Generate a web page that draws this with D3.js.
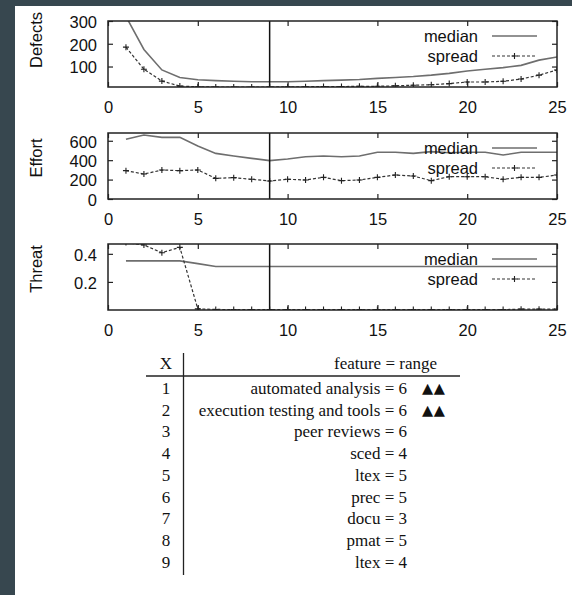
<!DOCTYPE html>
<html><head><meta charset="utf-8">
<script src="https://cdn.jsdelivr.net/npm/d3@7"></script>
<style>
html,body{margin:0;padding:0;background:#fff;}
svg{display:block;}
</style></head>
<body>
<svg id="c" width="572" height="595"></svg>
<script>
// ---------- data ----------
const xValues = [1,2,3,4,5,6,7,8,9,10,11,12,13,14,15,16,17,18,19,20,21,22,23,24,25];
const xTicks = [0,5,10,15,20,25];
const markerX = 9;

const defectsMedian = [320,175,85,52,42,38,35,33,33,33,35,38,40,43,48,52,56,62,70,80,88,95,105,128,142];
const defectsSpread = [185,88,36,14,11,10,10,10,10,11,11,12,12,13,13,15,18,20,25,32,32,35,45,62,85];
const defectsTicks = [100,200,300];

const effortMedian = [615,659,635,635,546,470,443,419,395,412,436,443,436,443,481,481,470,488,477,481,481,453,481,481,481];
const effortSpread = [292,257,299,292,299,213,220,203,185,203,196,223,189,196,223,247,237,189,230,230,230,203,223,223,247];
const effortTicks = [0,200,400,600];

const threatMedian = [0.35,0.35,0.35,0.35,0.33,0.31,0.31,0.31,0.31,0.31,0.31,0.31,0.31,0.31,0.31,0.31,0.31,0.31,0.31,0.31,0.31,0.31,0.31,0.31,0.31];
const threatSpread = [0.48,0.463,0.408,0.446,0.008,0.004,0.003,0.003,0.003,0.003,0.003,0.003,0.003,0.003,0.003,0.003,0.003,0.003,0.003,0.003,0.003,0.003,0.006,0.006,0.006];
const threatTicks = [0.2,0.4];

const seriesNames = ["median","spread"];
const panelTitles = ["Defects","Effort","Threat"];

const tableX = [1,2,3,4,5,6,7,8,9];
const tableFeatures = ["automated analysis = 6","execution testing and tools = 6","peer reviews = 6","sced = 4","ltex = 5","prec = 5","docu = 3","pmat = 5","ltex = 4"];
const tableMarks = ["\u25B2\u25B2","\u25B2\u25B2","","","","","","",""];
const tableHeader = ["X","feature = range"];

// ---------- layout ----------
const svg = d3.select("#c");
const W = 572, H = 595;
svg.append("rect").attr("x",0).attr("y",0).attr("width",W).attr("height",H).attr("fill","#37474f");
svg.append("rect").attr("x",15).attr("y",6).attr("width",W-15).attr("height",H-6).attr("fill","#ffffff");

const FONT = "'Liberation Sans', Arial, Helvetica, sans-serif";
const SERIF = "'Liberation Serif', 'Times New Roman', serif";
const FS = 16.5;

const x = d3.scaleLinear().domain([0,25]).range([108,557]);

const panels = [
  {title:panelTitles[0], top:21, bottom:87, domain:[10,300], ticks:defectsTicks, median:defectsMedian, spread:defectsSpread, fmt:d=>d3.format("d")(d), titleY:40},
  {title:panelTitles[1], top:133, bottom:199, domain:[0,680], ticks:effortTicks, median:effortMedian, spread:effortSpread, fmt:d=>d3.format("d")(d), titleY:158},
  {title:panelTitles[2], top:244, bottom:310, domain:[0,0.47], ticks:threatTicks, median:threatMedian, spread:threatSpread, fmt:d=>d3.format(".1f")(d), titleY:269}
];

panels.forEach((p,i)=>{
  const y = d3.scaleLinear().domain(p.domain).range([p.bottom,p.top]);
  const g = svg.append("g");
  const clipId = "clip"+i;
  svg.append("clipPath").attr("id",clipId).append("rect")
    .attr("x",x.range()[0]).attr("y",p.top).attr("width",x.range()[1]-x.range()[0]).attr("height",p.bottom-p.top);

  const tickLen = 5;
  const bottomAxis = d3.axisBottom(x).tickValues(xTicks).tickSize(-tickLen).tickPadding(14).tickFormat(d3.format("d"));
  const topAxis = d3.axisTop(x).tickValues(xTicks).tickSize(-tickLen).tickFormat("");
  const leftAxis = d3.axisLeft(y).tickValues(p.ticks).tickSize(-tickLen).tickPadding(11).tickFormat(p.fmt);
  const rightAxis = d3.axisRight(y).tickValues(p.ticks).tickSize(-tickLen).tickFormat("");

  const gb = g.append("g").attr("transform",`translate(0,${p.bottom})`).call(bottomAxis);
  const gt = g.append("g").attr("transform",`translate(0,${p.top})`).call(topAxis);
  const gl = g.append("g").attr("transform",`translate(${x.range()[0]},0)`).call(leftAxis);
  const gr = g.append("g").attr("transform",`translate(${x.range()[1]},0)`).call(rightAxis);
  [gb,gt,gl,gr].forEach(a=>{
    a.select(".domain").remove();
    a.selectAll(".tick line").attr("stroke","#222").attr("stroke-width",1.2);
    a.selectAll(".tick text").attr("fill","#111").style("font-family",FONT).style("font-size",FS+"px");
  });
  gb.selectAll(".tick text").attr("dy","0.71em");
  gl.selectAll(".tick text").attr("dy","0.38em");

  const line = d3.line().x((d,j)=>x(xValues[j])).y(d=>y(d));
  const sg = g.append("g").attr("clip-path",`url(#${clipId})`);
  sg.append("path").datum(p.median).attr("d",line).attr("fill","none")
    .attr("stroke","#6e6e6e").attr("stroke-width",1.6);
  sg.append("path").datum(p.spread).attr("d",line).attr("fill","none")
    .attr("stroke","#333").attr("stroke-width",1.2).attr("stroke-dasharray","3,2");
  sg.selectAll("path.mk").data(p.spread).enter().append("path").attr("class","mk")
    .attr("transform",(d,j)=>`translate(${x(xValues[j])},${y(d)})`)
    .attr("d",d3.symbol().type({draw(ctx,s){const r=3;ctx.moveTo(-r,0);ctx.lineTo(r,0);ctx.moveTo(0,-r);ctx.lineTo(0,r);}}).size(1))
    .attr("stroke","#222").attr("stroke-width",1.1).attr("fill","none");

  g.append("line").attr("x1",x(markerX)).attr("x2",x(markerX)).attr("y1",p.top).attr("y2",p.bottom)
    .attr("stroke","#111").attr("stroke-width",1.5);

  g.append("rect").attr("x",x.range()[0]).attr("y",p.top).attr("width",x.range()[1]-x.range()[0]).attr("height",p.bottom-p.top)
    .attr("fill","none").attr("stroke","#222").attr("stroke-width",1.5);

  const lg = g.append("g");
  seriesNames.forEach((nm,k)=>{
    const ly = p.top + 15 + k*20;
    lg.append("text").attr("x",478).attr("y",ly).attr("dy","0.35em").attr("text-anchor","end")
      .style("font-family",FONT).style("font-size",FS+"px").attr("fill","#111").text(nm);
    const ln = lg.append("line").attr("x1",492).attr("x2",537).attr("y1",ly).attr("y2",ly);
    if(k===0){ ln.attr("stroke","#6e6e6e").attr("stroke-width",1.6); }
    else {
      ln.attr("stroke","#333").attr("stroke-width",1.2).attr("stroke-dasharray","3,2");
      lg.append("path").attr("transform",`translate(514.5,${ly})`).attr("d","M-3,0L3,0M0,-3L0,3").attr("stroke","#222").attr("stroke-width",1.1);
    }
  });

  svg.append("text").attr("transform",`translate(42,${p.titleY}) rotate(-90)`).attr("text-anchor","middle")
    .style("font-family",FONT).style("font-size",FS+"px").attr("fill","#111").text(p.title);
});

// ---------- table ----------
const tg = svg.append("g").style("font-family",SERIF).style("font-size","17px").attr("fill","#111");
const rowY = d3.scalePoint().domain(tableX).range([388,562]);
tg.append("text").attr("x",166).attr("y",363).attr("dy","0.35em").attr("text-anchor","middle").text(tableHeader[0]);
tg.append("text").attr("x",437).attr("y",363).attr("dy","0.35em").attr("text-anchor","end").text(tableHeader[1]);
tg.append("line").attr("x1",146).attr("x2",460).attr("y1",376).attr("y2",376).attr("stroke","#222").attr("stroke-width",1.3);
tg.append("line").attr("x1",183.5).attr("x2",183.5).attr("y1",353).attr("y2",575).attr("stroke","#222").attr("stroke-width",1.3);
tableX.forEach((v,i)=>{
  const yy = rowY(v);
  tg.append("text").attr("x",166).attr("y",yy).attr("dy","0.35em").attr("text-anchor","middle").text(v);
  tg.append("text").attr("x",407).attr("y",yy).attr("dy","0.35em").attr("text-anchor","end").text(tableFeatures[i]);
  if(tableMarks[i]) tg.append("text").attr("x",422).attr("y",yy).attr("dy","0.35em")
    .style("font-family","'DejaVu Sans', sans-serif").style("font-size","14.5px").style("letter-spacing","0.5px").text(tableMarks[i]);
});
</script>
</body></html>
